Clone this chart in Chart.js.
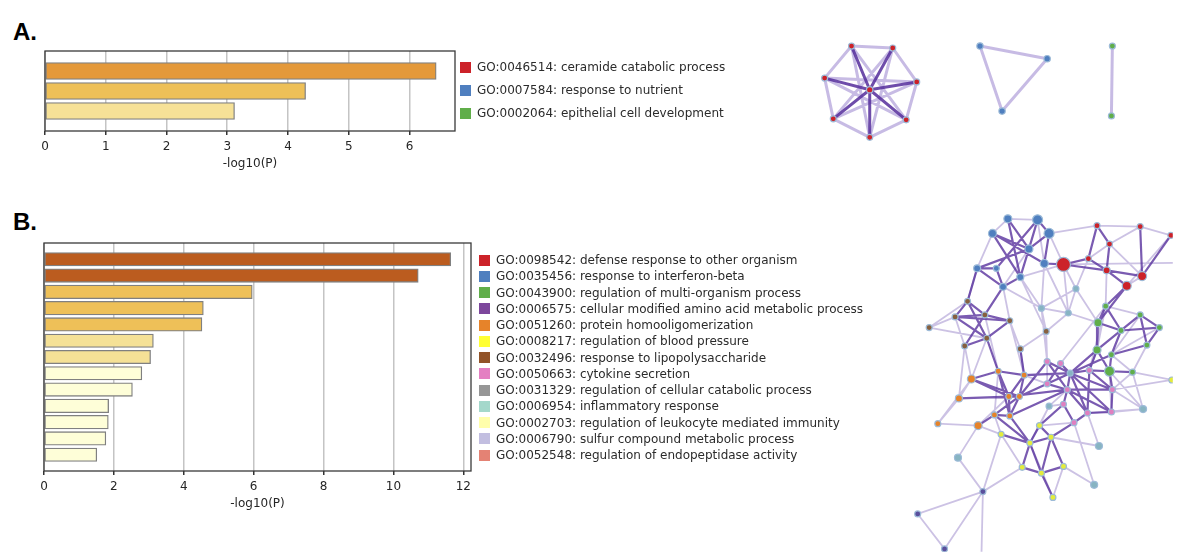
<!DOCTYPE html>
<html><head><meta charset="utf-8">
<script src="https://cdn.jsdelivr.net/npm/chart.js@4.4.1/dist/chart.umd.min.js"></script>
<style>
html,body{margin:0;padding:0;background:#fff;}
body{width:1181px;height:560px;overflow:hidden;position:relative;font-family:'DejaVu Sans',sans-serif;}
.box{position:absolute;}
.panel{position:absolute;font-family:'Liberation Sans',Arial,sans-serif;font-weight:bold;font-size:24px;line-height:24px;color:#000;}
.leg{position:absolute;font-family:'DejaVu Sans',sans-serif;font-size:12px;color:#2b2b2b;white-space:nowrap;}
.leg .row{position:absolute;left:0;height:16px;line-height:16px;}
.leg .sw{position:absolute;left:0;top:2.5px;width:11px;height:11px;}
.leg .tx{position:absolute;left:17px;top:0;}
</style>
</head><body>
<div class="panel" style="left:13px;top:20px">A.</div>
<div class="panel" style="left:13px;top:210px">B.</div>
<div class="box" style="left:0;top:40px;width:470px;height:135px"><canvas id="barA" width="470" height="135"></canvas></div>
<div class="box" style="left:0;top:230px;width:490px;height:285px"><canvas id="barB" width="490" height="285"></canvas></div>
<div class="box" style="left:780px;top:0;width:401px;height:560px"><canvas id="net" width="401" height="560"></canvas></div>
<div class="leg" id="legA" style="left:460px;top:0"></div>
<div class="leg" id="legB" style="left:479px;top:0"></div>
<script>
// ---------- data ----------
const termsA = ["GO:0046514: ceramide catabolic process","GO:0007584: response to nutrient","GO:0002064: epithelial cell development"];
const valuesA = [6.44, 4.29, 3.12];
const termsB = ["GO:0098542: defense response to other organism","GO:0035456: response to interferon-beta","GO:0043900: regulation of multi-organism process","GO:0006575: cellular modified amino acid metabolic process","GO:0051260: protein homooligomerization","GO:0008217: regulation of blood pressure","GO:0032496: response to lipopolysaccharide","GO:0050663: cytokine secretion","GO:0031329: regulation of cellular catabolic process","GO:0006954: inflammatory response","GO:0002703: regulation of leukocyte mediated immunity","GO:0006790: sulfur compound metabolic process","GO:0052548: regulation of endopeptidase activity"];
const valuesB = [11.64, 10.71, 5.96, 4.56, 4.52, 3.13, 3.05, 2.80, 2.53, 1.85, 1.84, 1.77, 1.51];
const xTicksA = {max: 6.75, step: 1};
const xTicksB = {max: 12.22, step: 2};

// network A nodes [x, y, group, radius]
const nodesA = [
 [865,84,'r',3.2],[846,39,'r',3],[889,41,'r',3],[818,72,'r',3],[914,76,'r',3],[827,114,'r',3],[903,115,'r',3],[865,133,'r',3],
 [980,39,'b',3.2],[1050,52,'b',3.2],[1003,106,'b',3.2],
 [1118,39,'g',3],[1117,111,'g',3]
];
const strongA = [[0,1],[0,2],[0,3],[0,4],[0,5],[0,6],[0,7]];
const weakA = [[1,2],[2,4],[4,6],[6,7],[7,5],[5,3],[3,1],[1,6],[2,5],[3,4],[1,7],[2,7],[3,6],[4,5],[8,9],[9,10],[10,8],[11,12]];

// network B nodes [x, y, group, radius]
const nodesB = [
 [1009,217,'b',4],[1040,218,'b',5],[1052,232,'b',5],[993,232,'b',4],[1031,248,'b',4],[1047,263,'b',4],[977,268,'b',3.5],[997,268,'b',3],[1022,277,'b',3.5],[1004,287,'b',3.5],
 [1067,264,'r',7],[1102,224,'r',3],[1147,225,'r',3],[1179,234,'r',3],[1115,243,'r',3],[1093,258,'r',3],[1112,270,'r',3.5],[1149,276,'r',4.5],[1133,286,'r',4.5],
 [1080,289,'t',3],[1044,309,'t',3],[1072,314,'t',3],
 [1111,307,'g',3],[1103,324,'g',4],[1147,316,'g',3],[1167,329,'g',3],[1127,332,'g',3],[1154,347,'g',3],[1102,352,'g',4],[1117,357,'g',3],[1115,374,'g',5],[1139,375,'g',3],
 [967,302,'n',3],[954,318,'n',3],[985,316,'n',3],[1011,322,'n',3],[927,329,'n',3],[987,340,'n',3],[964,348,'n',3],[1049,333,'n',3],[1022,351,'n',3],
 [971,382,'o',4],[999,374,'o',3],[1026,378,'o',3],[958,402,'o',3.5],[1010,400,'o',3],[1021,400,'o',3],[995,419,'o',3],[1011,420,'o',3],[936,428,'o',3],[978,430,'o',4],
 [1050,364,'p',3],[1064,366,'p',3],[1074,376,'t',3],[1094,373,'p',3],[1071,393,'p',3],[1067,408,'p',3],[1092,417,'p',3],[1117,416,'p',3],[1118,393,'p',3],[1078,427,'p',3],[1050,387,'p',3],
 [1052,410,'t',3],[1150,413,'t',3.5],[1104,451,'t',3.5],[1099,491,'t',3.5],[957,463,'t',3.5],
 [1042,430,'y',3],[1002,439,'y',3],[1054,442,'y',3],[1032,448,'y',3],[1024,473,'y',3],[1044,479,'y',3],[1067,472,'y',3],[1056,504,'y',3],[1180,383,'y',3],
 [983,498,'l',3],[915,521,'l',3],[943,557,'l',3],[981,585,'l',0],[1200,262,'r',0]
];
const strongB = [
 [0,4],[1,4],[2,4],[3,4],[4,6],[4,8],[1,7],[3,8],[6,7],[7,9],[8,9],[2,5],[1,2],[3,5],[5,10],[0,8],[6,9],
 [10,15],[10,16],[15,16],[11,14],[14,16],[12,17],[16,18],[16,17],[13,17],[11,15],[18,23],[18,22],
 [22,23],[23,26],[24,26],[25,26],[24,27],[25,27],[26,29],[27,29],[28,30],[29,30],[30,31],[23,28],[22,26],[24,25],[26,28],
 [32,33],[32,34],[33,34],[33,35],[34,35],[32,37],[33,37],[34,38],[37,38],[35,37],[34,9],[32,6],
 [41,42],[41,45],[42,43],[42,45],[43,46],[44,46],[41,46],[45,48],[46,47],[47,48],[42,48],[44,45],[50,47],[43,45],[46,48],
 [46,51],[46,53],[43,53],[45,55],[48,55],[40,43],[37,42],
 [51,53],[52,53],[53,54],[53,55],[55,56],[55,57],[55,58],[55,59],[54,59],[58,59],[57,58],[56,60],[57,60],[61,55],[52,61],[54,57],[53,58],[53,59],[51,55],[53,57],
 [54,30],[53,28],[59,30],[54,28],[53,29],
 [67,69],[67,70],[68,70],[69,70],[70,71],[70,72],[69,72],[71,72],[72,73],[69,73],[72,74],[48,70],[47,70],[56,67],[60,69]
];
const weakB = [
 [0,1],[0,3],[3,6],[2,11],[10,80],[10,19],[15,19],[19,20],[19,21],[20,21],[9,20],[5,20],[21,23],[10,21],[10,2],[10,8],
 [11,12],[12,13],[12,14],[15,14],[13,18],[17,18],[16,22],[14,17],
 [22,24],[22,54],[24,29],[25,29],[27,31],[31,75],[31,63],[29,31],
 [36,37],[36,32],[36,33],[35,9],[34,42],[39,40],[39,20],[40,35],[40,43],[39,51],[37,41],[38,41],
 [41,44],[44,49],[49,50],[49,41],[50,45],[50,66],[66,76],
 [76,77],[77,78],[76,78],[76,79],[76,71],[76,68],
 [62,55],[62,56],[62,67],[61,51],[61,43],
 [63,58],[63,59],[64,57],[64,69],[65,60],[65,73],[73,74],[71,68],[68,47],
 [58,30],[59,31],[57,63],[20,51],[8,39],[52,22],[5,21],[33,38],[35,43],
 [6,32],[9,35],[4,9],[2,10],[21,39],[19,23],[22,28],[30,63],[28,54],[42,47],[44,38],[50,68],[67,60],[62,70],[70,74],[59,75],[8,20],[1,5]
];

// ---------- styles ----------
const barColorsA = ['#e4993a','#eec058','#f6e197'];
const barColorsB = ['#bb5c1f','#bb5c1f','#eec058','#eec058','#eec058','#f5e196','#f5e196','#fefed8','#fefed8','#fefed8','#fefed8','#fefed8','#fefed8'];
const legColorsA = ['#cc2229','#4f7fbf','#60ae4a'];
const legColorsB = ['#cc2229','#4f7fbf','#60ae4a','#7d479c','#e6832a','#ffff33','#925328','#e47fc2','#969696','#a4d8cb','#fffeab','#c2bee0','#e48274'];
const nodeColors = {r:'#cc2229', b:'#4f7fbf', g:'#60ae4a', o:'#e6832a', p:'#e07fc0', y:'#e4ec3c', n:'#87603f', t:'#87b4c2', l:'#5a4f9c'};

// ---------- legends ----------
function buildLegend(el, terms, colors, firstCenter, pitch) {
  terms.forEach((t, i) => {
    const row = document.createElement('div');
    row.className = 'row';
    row.style.top = (firstCenter + i * pitch - 8) + 'px';
    row.innerHTML = '<div class="sw" style="background:' + colors[i] + '"></div><div class="tx"></div>';
    row.querySelector('.tx').textContent = t;
    el.appendChild(row);
  });
}
buildLegend(document.getElementById('legA'), termsA, legColorsA, 67, 23);
buildLegend(document.getElementById('legB'), termsB, legColorsB, 260, 16.25);

// ---------- bar charts ----------
const framePlugin = {
  id: 'frame',
  afterDraw(chart) {
    const {ctx, chartArea: a} = chart;
    ctx.save();
    ctx.strokeStyle = '#3a3a3a';
    ctx.lineWidth = 1.3;
    ctx.strokeRect(a.left, a.top, a.right - a.left, a.bottom - a.top);
    ctx.restore();
  }
};
const tickFont = {family: 'DejaVu Sans', size: 12};
function barChart(id, terms, values, colors, ticks, thickness, pad) {
  // one empty slot above and below the bars, as in the original layout
  const labels = [''].concat(terms, ['']);
  const data = [null].concat(values, [null]);
  const fills = ['#fff'].concat(colors, ['#fff']);
  return new Chart(document.getElementById(id), {
    type: 'bar',
    data: {labels: labels, datasets: [{
      data: data,
      backgroundColor: fills, borderColor: '#808080', borderWidth: 1.3,
      borderSkipped: false, barThickness: thickness
    }]},
    options: {
      indexAxis: 'y', responsive: false, animation: false,
      layout: {padding: pad},
      plugins: {legend: {display: false}, tooltip: {enabled: false}},
      scales: {
        x: {type: 'linear', min: 0, max: ticks.max,
            afterFit: s => { s.height = 44; },
            ticks: {stepSize: ticks.step, includeBounds: false, color: '#262626', font: tickFont, padding: 5},
            grid: {color: '#c4c4c4', lineWidth: 1.5, tickColor: '#333', tickLength: 4},
            border: {display: false},
            title: {display: true, text: '-log10(P)', color: '#262626', font: tickFont, padding: {top: 4, bottom: 4}}},
        y: {type: 'category', offset: false, display: false, grid: {offset: false}}
      }
    },
    plugins: [framePlugin]
  });
}
barChart('barA', termsA, valuesA, barColorsA, xTicksA, 17, {left: 45, right: 15, top: 11, bottom: 0});
barChart('barB', termsB, valuesB, barColorsB, xTicksB, 13.5, {left: 44, right: 19, top: 13, bottom: 0});

// ---------- networks ----------
function edgeData(nodes, edges) {
  const out = [];
  edges.forEach(([a, b]) => {
    out.push({x: nodes[a][0], y: nodes[a][1]});
    out.push({x: nodes[b][0], y: nodes[b][1]});
    out.push({x: nodes[b][0], y: null});
  });
  return out;
}
function nodeSet(nodes) {
  return {
    type: 'scatter',
    data: nodes.map(n => ({x: n[0], y: n[1]})),
    pointBackgroundColor: nodes.map(n => nodeColors[n[2]]),
    pointBorderColor: '#9dbbd8', pointBorderWidth: 1.2,
    pointRadius: nodes.map(n => n[3]), pointHoverRadius: nodes.map(n => n[3]),
    showLine: false
  };
}
function edgeSet(nodes, edges, color, width) {
  return {
    type: 'line', data: edgeData(nodes, edges), borderColor: color, borderWidth: width,
    pointRadius: 0, spanGaps: false, tension: 0, fill: false, borderCapStyle: 'round'
  };
}
new Chart(document.getElementById('net'), {
  type: 'scatter',
  data: {datasets: [
    nodeSet(nodesA),
    nodeSet(nodesB),
    edgeSet(nodesA, strongA, 'rgba(85,45,155,0.85)', 3),
    edgeSet(nodesB, strongB, 'rgba(85,45,155,0.78)', 2.2),
    edgeSet(nodesA, weakA, 'rgba(130,105,195,0.45)', 3),
    edgeSet(nodesB, weakB, 'rgba(120,95,185,0.38)', 1.8)
  ]},
  options: {
    responsive: false, animation: false,
    layout: {padding: 0},
    plugins: {legend: {display: false}, tooltip: {enabled: false}},
    scales: {
      x: {type: 'linear', min: 780, max: 1181, display: false},
      y: {type: 'linear', min: 0, max: 560, reverse: true, display: false}
    }
  }
});
</script>
</body></html>
